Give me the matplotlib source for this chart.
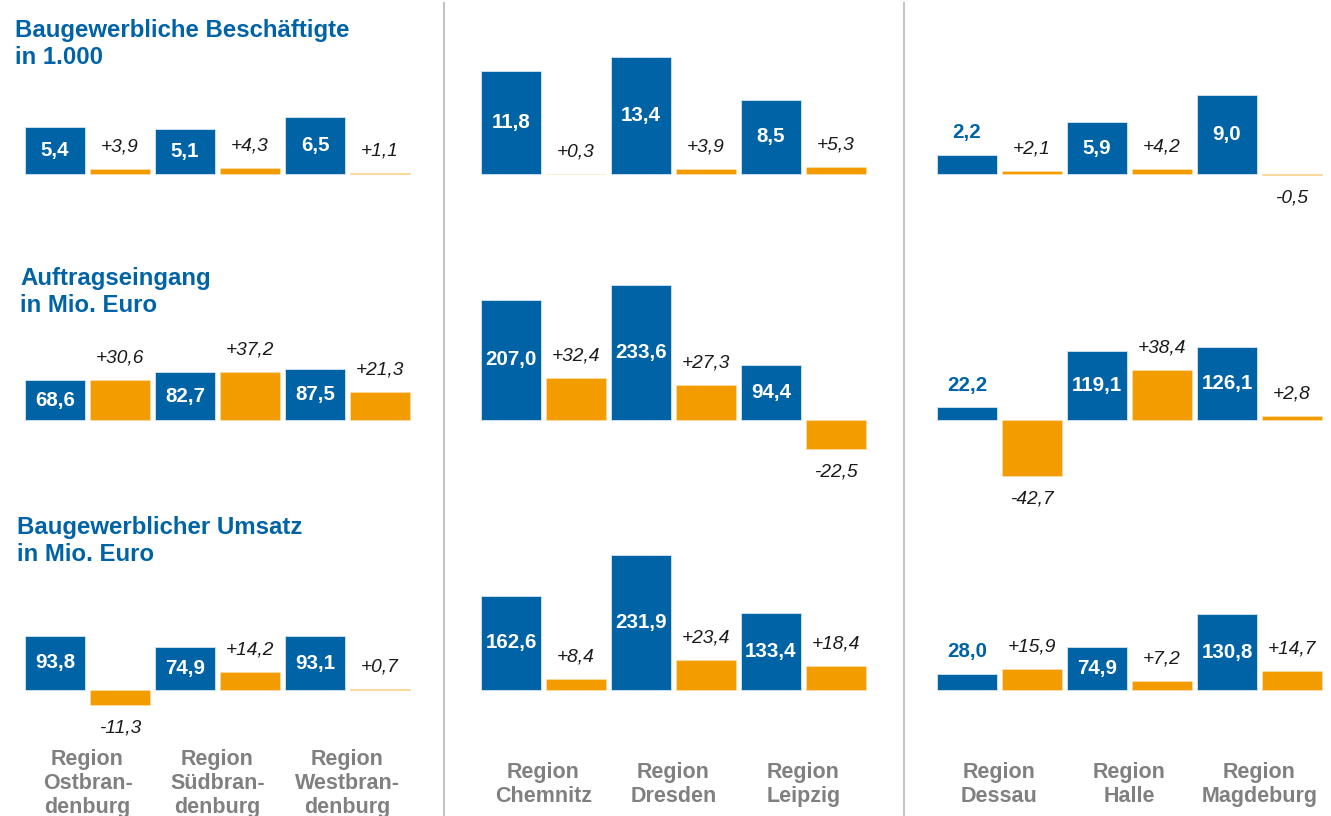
import matplotlib.pyplot as plt
from matplotlib.lines import Line2D
from matplotlib.transforms import blended_transform_factory

plt.rcParams['font.family'] = ['Liberation Sans', 'DejaVu Sans']

# data: three panels of three regions each
regions = [
    ["Region\nOstbran-\ndenburg", "Region\nSüdbran-\ndenburg", "Region\nWestbran-\ndenburg"],
    ["Region\nChemnitz", "Region\nDresden", "Region\nLeipzig"],
    ["Region\nDessau", "Region\nHalle", "Region\nMagdeburg"],
]
row_titles = [
    "Baugewerbliche Beschäftigte\nin 1.000",
    "Auftragseingang\nin Mio. Euro",
    "Baugewerblicher Umsatz\nin Mio. Euro",
]
beschaeftigte = [5.4, 5.1, 6.5, 11.8, 13.4, 8.5, 2.2, 5.9, 9.0]
beschaeftigte_change = [3.9, 4.3, 1.1, 0.3, 3.9, 5.3, 2.1, 4.2, -0.5]
auftrag = [68.6, 82.7, 87.5, 207.0, 233.6, 94.4, 22.2, 119.1, 126.1]
auftrag_change = [30.6, 37.2, 21.3, 32.4, 27.3, -22.5, -42.7, 38.4, 2.8]
umsatz = [93.8, 74.9, 93.1, 162.6, 231.9, 133.4, 28.0, 74.9, 130.8]
umsatz_change = [-11.3, 14.2, 0.7, 8.4, 23.4, 18.4, 15.9, 7.2, 14.7]

values = [beschaeftigte, auftrag, umsatz]
changes = [beschaeftigte_change, auftrag_change, umsatz_change]

BLUE = '#0063A6'
ORANGE = '#F39C00'
GREY = '#808080'

W, H = 1331, 816
fig = plt.figure(figsize=(W / 100, H / 100), dpi=100)


def fx(px):
    return px / W


def fy(py):
    return 1 - py / H


def fmt(v, sign=False):
    s = f"{v:+.1f}" if sign else f"{v:.1f}"
    return s.replace('.', ',')


# layout in pixels
panel_left = [22.5, 478.5, 934.5]
panel_width = 390
row_top = [40, 270, 540]
row_bottom = [240, 500, 740]
row_base = [174, 420, 690]
blue_scale = [8.76, 0.58, 0.58]   # px per unit
orange_scale = 1.3
title_pos = [(15, 19), (20, 267), (17, 516)]
label_top = [749, 762, 762]

for r in range(3):
    top, bottom, base = row_top[r], row_bottom[r], row_base[r]
    for c in range(3):
        ax = fig.add_axes([fx(panel_left[c]), fy(bottom), fx(panel_width), (bottom - top) / H])
        ax.set_xlim(-0.5, 5.5)
        ax.set_ylim(-(bottom - base) / blue_scale[r], (base - top) / blue_scale[r])
        ax.axis('off')
        ax2 = ax.twinx()
        ax2.set_ylim(-(bottom - base) / orange_scale, (base - top) / orange_scale)
        ax2.axis('off')

        for i in range(3):
            v = values[r][c * 3 + i]
            d = changes[r][c * 3 + i]
            ax.bar(2 * i, v, width=0.923, color=BLUE, edgecolor='#d5e4f0', linewidth=0.6)
            ax2.bar(2 * i + 1, d, width=0.923, color=ORANGE, edgecolor='#fde3b8', linewidth=0.4)

            if v * blue_scale[r] >= 30:
                ax.text(2 * i, v / 2, fmt(v), ha='center', va='center', color='white',
                        fontsize=14.8, fontweight='bold')
            else:
                ax.annotate(fmt(v), (2 * i, v), xytext=(0, 22), textcoords='offset pixels',
                            ha='center', va='center', color=BLUE, fontsize=14.8, fontweight='bold')

            off = 22 if d >= 0 else -23
            ax2.annotate(fmt(d, sign=True), (2 * i + 1, d), xytext=(0, off),
                         textcoords='offset pixels', ha='center', va='center',
                         color='#1a1a1a', fontsize=13.8, fontstyle='italic')

        if r == 2:
            tr = blended_transform_factory(ax.transData, fig.transFigure)
            for i in range(3):
                ax.text(2 * i + 0.5, fy(label_top[c]), regions[c][i], transform=tr,
                        ha='center', va='top', multialignment='center', color=GREY,
                        fontsize=15.5, fontweight='bold', linespacing=1.2, clip_on=False)

for r in range(3):
    x, y = title_pos[r]
    fig.text(fx(x), fy(y), row_titles[r], ha='left', va='top', color=BLUE,
             fontsize=17.3, fontweight='bold', linespacing=1.2)

# separators between panels
for xs in [444, 904]:
    fig.add_artist(Line2D([fx(xs), fx(xs)], [fy(3), 0], color='#C4C4C4', lw=1.5))

fig.savefig('out.png', dpi=100)
